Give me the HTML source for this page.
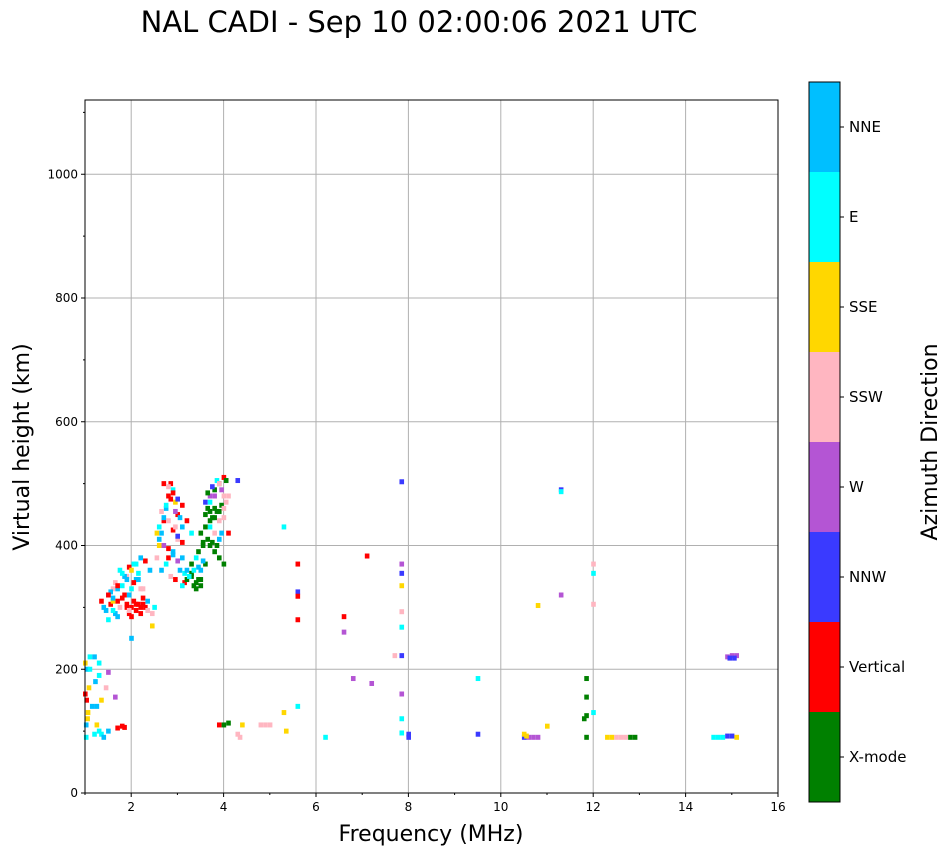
<!DOCTYPE html>
<html><head><meta charset="utf-8"><style>
body{margin:0;background:#fff;font-family:"Liberation Sans",sans-serif}
svg text{font-family:"DejaVu Sans","Liberation Sans",sans-serif}
</style></head><body>
<svg id="c" width="951" height="856" xmlns="http://www.w3.org/2000/svg"></svg>
<script>
const xTicks=[2,4,6,8,10,12,14,16];
const yTicks=[0,200,400,600,800,1000];
const directions=["X-mode","Vertical","NNW","W","SSW","SSE","E","NNE"];
const dirColors=["#008000","#ff0000","#3a3aff","#b455d4","#ffb6c1","#ffd700","#00ffff","#00bfff"];
// echoes: [frequency MHz, virtual height km, direction index]
const echoes=[
[1.02,90,6],[1.05,120,5],[1.03,150,1],[1.08,170,5],[1.04,200,7],[1.1,220,6],[1.02,110,7],[1.06,130,5],[1.2,95,6],[1.25,140,7],[1.3,100,6],[1.22,180,7],[1.35,150,5],[1.3,210,6],[1.45,170,4],[1.5,195,3],[1.0,210,5],[1.1,200,6],[1.2,220,7],[1.3,190,6],[1.0,160,1],[1.15,140,7],[1.25,110,5],[1.35,95,6],[1.4,90,7],[1.5,100,7],[1.65,155,3],[1.7,105,1],[1.8,108,1],[1.85,106,1],
[1.4,300,7],[1.35,310,1],[1.45,295,7],[1.5,320,2],[1.55,305,1],[1.6,330,4],[1.65,290,7],[1.7,310,1],[1.6,295,6],[1.75,300,4],[1.8,315,1],[1.7,285,7],[1.85,320,1],[1.9,300,1],[1.95,290,1],[2.0,300,1],[2.05,310,1],[2.1,295,1],[2.15,305,1],[2.2,300,1],[2.25,315,1],[2.3,300,1],[2.0,330,6],[2.1,345,7],[2.2,330,4],[2.15,355,6],[2.05,340,1],[1.95,320,7],[1.9,350,4],[1.8,335,6],[1.7,330,7],[1.6,310,5],[1.55,325,7],
[1.65,340,4],[1.75,360,6],[1.85,350,7],[1.95,365,1],[2.05,370,6],[2.15,345,7],[2.25,330,4],[2.35,310,7],[2.45,290,4],[2.5,300,6],[2.4,360,7],[2.3,375,1],[2.2,380,7],[2.1,370,6],[2.0,360,5],[1.9,345,7],[1.8,355,6],[1.7,335,1],[1.6,315,7],[1.5,320,1],[2.0,285,1],[2.1,305,1],[2.2,290,1],[2.25,305,1],[1.9,305,1],[1.95,295,4],[2.35,295,4],[2.45,270,5],[2.0,250,7],[1.5,280,6],
[2.55,380,4],[2.6,400,5],[2.65,420,7],[2.7,440,1],[2.75,460,7],[2.8,480,1],[2.85,500,1],[2.9,490,6],[2.95,470,5],[3.0,450,1],[2.6,410,7],[2.7,400,3],[2.8,380,1],[2.9,390,7],[3.0,410,4],[3.1,430,7],[3.2,440,1],[3.3,420,6],[2.65,360,7],[2.75,370,6],[2.85,350,4],[2.95,345,1],[3.05,360,7],[3.15,355,6],[2.8,395,1],[2.9,385,7],[3.0,375,3],[3.1,405,1],[2.75,465,6],[2.85,475,1],[2.95,455,3],[3.05,445,7],[2.7,500,1],[2.8,495,4],[2.9,485,1],[3.0,475,2],[3.1,465,1],[2.6,430,6],[2.7,445,7],[2.8,440,4],[2.9,425,1],[3.0,415,2],[2.55,420,5],[2.65,455,4],[3.15,340,1],[2.95,430,4],[3.1,380,7],
[3.2,360,7],[3.3,350,0],[3.4,340,0],[3.5,345,0],[3.3,370,0],[3.4,380,6],[3.5,360,7],[3.6,370,0],[3.1,335,6],[3.2,345,0],[3.3,355,0],[3.45,390,0],[3.55,400,0],[3.35,335,0],[3.45,345,0],[3.4,330,0],[3.5,335,0],[3.25,350,6],[3.35,360,6],[3.45,365,7],[3.55,375,7],
[3.6,470,2],[3.7,480,3],[3.8,490,0],[3.9,500,0],[3.65,460,0],[3.75,445,0],[3.85,455,0],[3.95,465,0],[3.7,430,6],[3.8,420,4],[3.9,410,7],[3.7,400,0],[3.8,390,0],[3.9,380,0],[4.0,370,0],[3.65,485,0],[3.75,495,2],[3.85,505,6],[3.95,490,3],[3.8,480,3],[3.9,500,4],[4.0,510,1],[4.05,505,0],[3.7,470,6],[3.9,440,4],[3.6,450,0],[3.7,455,0],[3.8,460,0],[3.9,455,0],[4.0,445,4],[4.1,420,1],[3.5,420,0],[3.6,430,0],[3.7,440,0],[3.8,445,0],[4.0,480,4],[4.05,470,4],[4.0,460,4],[3.95,420,7],[3.55,405,0],[3.65,410,0],[3.75,405,0],[3.85,400,0],[4.1,480,4],[4.3,505,2],
[3.9,110,1],[4.0,110,0],[4.1,113,0],[4.35,90,4],[4.4,110,5],[4.3,95,4],[4.8,110,4],[4.9,110,4],[5.0,110,4],[5.3,130,5],[5.35,100,5],[5.3,430,6],[5.6,370,1],[5.6,325,2],[5.6,318,1],[5.6,280,1],[5.6,140,6],[6.2,90,6],[6.6,285,1],[6.6,260,3],[6.8,185,3],[7.1,383,1],[7.2,177,3],
[7.85,503,2],[7.85,370,3],[7.85,355,2],[7.85,335,5],[7.85,293,4],[7.85,268,6],[7.85,222,2],[7.85,160,3],[7.85,120,6],[7.85,97,6],[7.7,222,4],[8.0,90,2],[8.0,95,2],[9.5,185,6],[9.5,95,2],[10.5,90,2],[10.6,90,3],[10.7,90,3],[10.8,90,3],[10.5,95,5],[10.55,92,5],[10.8,303,5],[11.0,108,5],[11.3,490,2],[11.3,487,6],[11.3,320,3],
[11.85,185,0],[11.85,155,0],[11.8,120,0],[11.85,125,0],[11.85,90,0],[12.0,130,6],[12.0,355,6],[12.0,370,4],[12.0,305,4],[12.3,90,5],[12.4,90,5],[12.5,90,4],[12.6,90,4],[12.7,90,4],[12.8,90,0],[12.9,90,0],[14.6,90,6],[14.7,90,6],[14.8,90,6],[14.9,92,2],[15.0,92,2],[15.1,90,5],[14.9,220,3],[15.0,222,3],[15.1,222,3],[14.95,218,2],[15.05,218,2]
];
const echoFreq=echoes.map(e=>e[0]);
const echoHeight=echoes.map(e=>e[1]);
const echoDir=echoes.map(e=>e[2]);

const svg=document.getElementById('c');
const NS='http://www.w3.org/2000/svg';
const X0=85,X1=778,Y0=793,Y1=100,FMIN=1,FMAX=16,HMAX=1120;
const xs=f=>X0+(f-FMIN)/(FMAX-FMIN)*(X1-X0);
const ys=h=>Y0-h/HMAX*(Y0-Y1);
function mk(t,a,p){const e=document.createElementNS(NS,t);for(const k in a)e.setAttribute(k,a[k]);(p||svg).appendChild(e);return e;}
function txt(s,a){const e=mk('text',a);e.textContent=s;return e;}

const title=txt('NAL CADI - Sep 10 02:00:06 2021 UTC',{x:419,y:32,'font-size':29,'text-anchor':'middle',fill:'#000'});



xTicks.forEach(t=>{const l=mk('line',{x1:xs(t),x2:xs(t),y1:Y1,y2:Y0,stroke:'#b0b0b0','stroke-width':1});

});
yTicks.forEach(t=>{const l=mk('line',{x1:X0,x2:X1,y1:ys(t),y2:ys(t),stroke:'#b0b0b0','stroke-width':1});

});

const g=mk('g',{});


for(let i=0;i<echoFreq.length;i++){
  const r=mk('rect',{x:xs(echoFreq[i])-2,y:ys(echoHeight[i])-2.5,width:4.6,height:5,fill:dirColors[echoDir[i]]},g);
  
  
}

const fr=mk('rect',{x:X0,y:Y1,width:X1-X0,height:Y0-Y1,fill:'none',stroke:'#000','stroke-width':1});



xTicks.forEach(t=>{mk('line',{x1:xs(t),x2:xs(t),y1:Y0,y2:Y0+4,stroke:'#000'});
const e=txt(t,{x:xs(t),y:Y0+18,'font-size':12,'text-anchor':'middle'});

});
for(let t=1;t<16;t+=2) mk('line',{x1:xs(t),x2:xs(t),y1:Y0,y2:Y0+2,stroke:'#000'});
yTicks.forEach(t=>{mk('line',{x1:X0-4,x2:X0,y1:ys(t),y2:ys(t),stroke:'#000'});
const e=txt(t,{x:X0-7,y:ys(t)+4,'font-size':12,'text-anchor':'end'});

});
for(let t=100;t<1120;t+=200) mk('line',{x1:X0-2,x2:X0,y1:ys(t),y2:ys(t),stroke:'#000'});

const xt=txt('Frequency (MHz)',{x:431,y:841,'font-size':22,'text-anchor':'middle'});


const yt=txt('Virtual height (km)',{x:0,y:0,'font-size':22,'text-anchor':'middle',transform:'translate(29,447) rotate(-90)'});



const CB0=802,CBH=90;
directions.forEach((d,i)=>{
  const y=CB0-(i+1)*CBH;
  const r=mk('rect',{x:809,y:y,width:31,height:CBH,fill:dirColors[i]});
  
  
  mk('line',{x1:840,x2:844,y1:y+CBH/2,y2:y+CBH/2,stroke:'#000'});
  const t=txt(d,{x:849,y:y+CBH/2+5,'font-size':15});
  
  
});
mk('rect',{x:809,y:82,width:31,height:720,fill:'none',stroke:'#000'});
const ct=txt('Azimuth Direction',{x:0,y:0,'font-size':22,'text-anchor':'middle',transform:'translate(937,442) rotate(-90)'});


</script>
</body></html>
